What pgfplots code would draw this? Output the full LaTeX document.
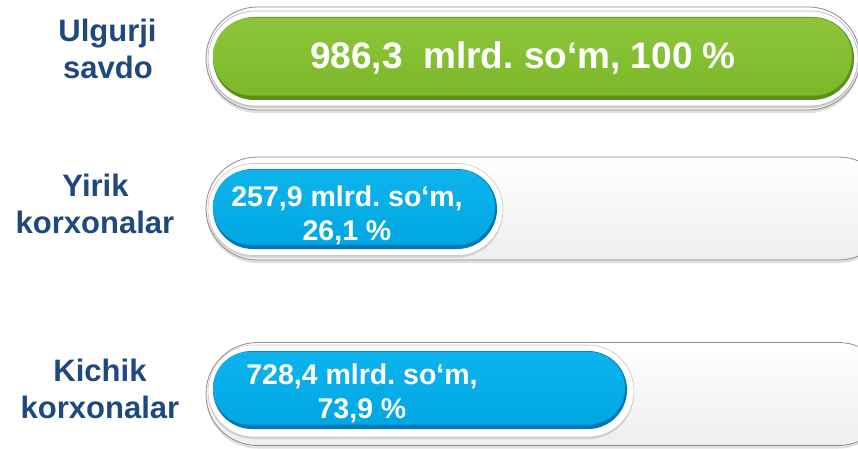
\documentclass[border=0pt]{standalone}
\usepackage{pgfplots}
\pgfplotsset{compat=1.18}
\usepackage{fontspec}
\setmainfont{Liberation Sans}
\frenchspacing
\definecolor{lbl}{HTML}{1F497D}
\definecolor{gmain}{HTML}{7DB829}
\definecolor{gtop}{HTML}{8CC53A}
\definecolor{gbot}{HTML}{5E8E1C}
\definecolor{bmain}{HTML}{00A7E2}
\definecolor{btop}{HTML}{0CB3EC}
\definecolor{bbot}{HTML}{0079B8}
\definecolor{trk}{HTML}{EEEEEE}
\definecolor{trkline}{HTML}{8C8C8C}
\pgfplotsset{lay/.style={scale only axis, width=858pt, height=448pt,
  ymin=0, ymax=448, hide axis, at={(0pt,0pt)}, anchor=south west,
  xbar, clip=true}}
\begin{document}
\begin{tikzpicture}[x=1pt,y=1pt]
\useasboundingbox (0,0) rectangle (858,448);
% ---- tracks (x = 0 at pixel 206)
\begin{axis}[lay, xmin=-206, xmax=652]
 \addplot[bar shift=-3pt, bar width=103pt, rounded corners=51.4pt, fill=black!12, draw=none] coordinates {(654,389.5)};
 \addplot[bar shift=-3pt, bar width=103pt, rounded corners=51.4pt, fill=black!12, draw=none] coordinates {(684,239.5)};
 \addplot[bar shift=-3pt, bar width=103pt, rounded corners=51.4pt, fill=black!12, draw=none] coordinates {(684,54)};
 \addplot[bar shift=0pt, bar width=103pt, rounded corners=51.4pt, top color=white, bottom color=trk, draw=trkline, line width=0.8pt] coordinates {(654,389.5)};
 \addplot[bar shift=0pt, bar width=103pt, rounded corners=51.4pt, top color=white, bottom color=trk, draw=trkline, line width=0.8pt] coordinates {(684,239.5)};
 \addplot[bar shift=0pt, bar width=103pt, rounded corners=51.4pt, top color=white, bottom color=trk, draw=trkline, line width=0.8pt] coordinates {(684,54)};
\end{axis}
% ---- white rings (x = 0 at pixel 208)
\begin{axis}[lay, xmin=-208, xmax=650]
 \addplot[bar shift=-2pt, bar width=95pt, rounded corners=47.4pt, fill=black!18, draw=none] coordinates {(650,389.5)};
 \addplot[bar shift=-2pt, bar width=92pt, rounded corners=45.9pt, fill=black!18, draw=none] coordinates {(295,238.5)};
 \addplot[bar shift=-2pt, bar width=92pt, rounded corners=45.9pt, fill=black!18, draw=none] coordinates {(426,57)};
 \addplot[bar shift=0pt, bar width=95pt, rounded corners=47.4pt, fill=white, draw=black!30, line width=0.6pt] coordinates {(650,389.5)};
 \addplot[bar shift=0pt, bar width=92pt, rounded corners=45.9pt, fill=white, draw=black!22, line width=0.6pt] coordinates {(295,238.5)};
 \addplot[bar shift=0pt, bar width=92pt, rounded corners=45.9pt, fill=white, draw=black!22, line width=0.6pt] coordinates {(426,57)};
\end{axis}
% ---- value bars (x = 0 at pixel 213)
\begin{axis}[lay, xmin=-213, xmax=645]
 % Ulgurji savdo
 \addplot[bar shift=0pt, bar width=83pt, rounded corners=41.4pt, fill=gbot, draw=none] coordinates {(641,389.5)};
 \addplot[bar shift=1.8pt, bar width=78pt, rounded corners=38.9pt, top color=gtop, bottom color=gmain, draw=none] coordinates {(639,389.5)};
 % Yirik korxonalar
 \addplot[bar shift=0pt, bar width=80pt, rounded corners=39.9pt, fill=bbot, draw=none] coordinates {(284,239)};
 \addplot[bar shift=1.8pt, bar width=75pt, rounded corners=37.4pt, top color=btop, bottom color=bmain, draw=none] coordinates {(282,239)};
 % Kichik korxonalar
 \addplot[bar shift=0pt, bar width=78pt, rounded corners=38.9pt, fill=bbot, draw=none] coordinates {(414,58)};
 \addplot[bar shift=1.8pt, bar width=73pt, rounded corners=36.4pt, top color=btop, bottom color=bmain, draw=none] coordinates {(412,58)};
\end{axis}
% ---- category labels
\begin{scope}[every node/.style={anchor=base, inner sep=0pt, text=lbl, font=\bfseries\fontsize{31}{37}\selectfont}]
 \node at (107.5,406.3) {Ulgurji};
 \node at (108,369.7) {savdo};
 \node at (95.5,251.3) {Yirik};
 \node at (95,214.7) {korxonalar};
 \node at (100,66.3) {Kichik};
 \node at (100,29.7) {korxonalar};
\end{scope}
% ---- value labels
\node[anchor=base, inner sep=0pt, text=white, font=\bfseries\fontsize{37}{40}\selectfont] at (523,379) {986,3\ \ mlrd. so‘m, 100 \%};
\begin{scope}[every node/.style={anchor=base, inner sep=0pt, text=white, font=\bfseries\fontsize{28.5}{32}\selectfont}]
 \node at (347,242) {257,9 mlrd. so‘m,};
 \node at (347,208) {26,1 \%};
 \node at (362,63.7) {728,4 mlrd. so‘m,};
 \node at (362,29.3) {73,9 \%};
\end{scope}
\end{tikzpicture}
\end{document}
